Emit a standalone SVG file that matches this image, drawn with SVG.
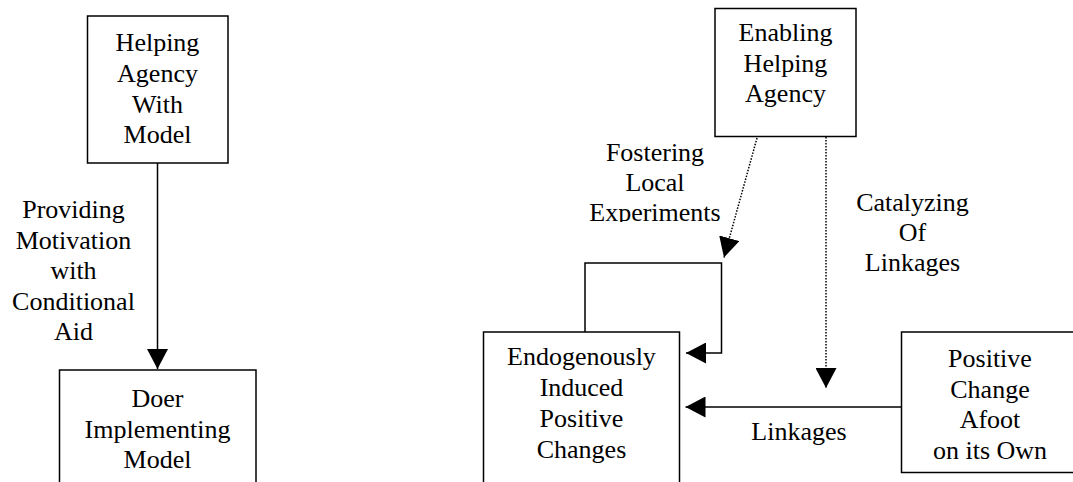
<svg xmlns="http://www.w3.org/2000/svg" width="1073" height="482" viewBox="0 0 1073 482">
<style>
.box{fill:#fff;stroke:#000;stroke-width:1.5}
.t{font-family:"Liberation Serif","Times New Roman",serif;font-size:26px;fill:#000;text-anchor:middle}
.c{fill:none;stroke:#000;stroke-width:1.5}
.d{fill:none;stroke:#000;stroke-width:1.5;stroke-dasharray:1.5 1.5}
</style>
<defs>
<marker id="ah" markerUnits="userSpaceOnUse" markerWidth="20" markerHeight="21" refX="20" refY="10.5" orient="auto">
<path d="M0,0 L20,10.5 L0,21 z" fill="#000"/>
</marker>
<clipPath id="fclip"><rect x="560" y="130" width="200" height="92"/></clipPath>
</defs>
<rect width="1073" height="482" fill="#fff"/>
<g id="connectors">
<line class="c" x1="157.5" y1="163" x2="157.5" y2="369" marker-end="url(#ah)"/>
<polyline class="c" points="585,332 585,263 721.5,263 721.5,353 686,353" marker-end="url(#ah)"/>
<line class="d" x1="757" y1="138" x2="724" y2="257.5" marker-end="url(#ah)"/>
<line class="d" x1="826" y1="137" x2="826" y2="388" marker-end="url(#ah)"/>
<line class="c" x1="901" y1="407" x2="685.5" y2="407" marker-end="url(#ah)"/>
</g>
<g id="label-providing">
<text class="t" x="73.5" y="218">Providing</text>
<text class="t" x="73.5" y="248.5">Motivation</text>
<text class="t" x="73.5" y="279">with</text>
<text class="t" x="73.5" y="309.5">Conditional</text>
<text class="t" x="73.5" y="340">Aid</text>
</g>
<g id="label-fostering" clip-path="url(#fclip)">
<text class="t" x="655" y="160.5">Fostering</text>
<text class="t" x="655" y="190.5">Local</text>
<text class="t" x="655" y="221">Experiments</text>
</g>
<g id="label-catalyzing">
<text class="t" x="912.5" y="211">Catalyzing</text>
<text class="t" x="912.5" y="241">Of</text>
<text class="t" x="912.5" y="271">Linkages</text>
</g>
<g id="label-linkages">
<text class="t" x="799" y="440">Linkages</text>
</g>
<g id="node-helping">
<rect class="box" x="87.5" y="16" width="140.5" height="147"/>
<text class="t" x="157.5" y="51">Helping</text>
<text class="t" x="157.5" y="82">Agency</text>
<text class="t" x="157.5" y="112.5">With</text>
<text class="t" x="157.5" y="143">Model</text>
</g>
<g id="node-doer">
<rect class="box" x="59.5" y="370" width="196.5" height="130"/>
<text class="t" x="157.5" y="407">Doer</text>
<text class="t" x="157.5" y="437.5">Implementing</text>
<text class="t" x="157.5" y="468">Model</text>
</g>
<g id="node-enabling">
<rect class="box" x="715" y="8.5" width="141" height="128"/>
<text class="t" x="785.5" y="41">Enabling</text>
<text class="t" x="785.5" y="71.5">Helping</text>
<text class="t" x="785.5" y="102">Agency</text>
</g>
<g id="node-endogenous">
<rect class="box" x="483.5" y="332" width="196" height="170"/>
<text class="t" x="581.5" y="365">Endogenously</text>
<text class="t" x="581.5" y="396">Induced</text>
<text class="t" x="581.5" y="427">Positive</text>
<text class="t" x="581.5" y="458">Changes</text>
</g>
<g id="node-positive">
<rect class="box" x="901.5" y="332" width="180" height="140.5"/>
<text class="t" x="990" y="367">Positive</text>
<text class="t" x="990" y="397.5">Change</text>
<text class="t" x="990" y="428">Afoot</text>
<text class="t" x="990" y="458.5">on its Own</text>
</g>
</svg>
